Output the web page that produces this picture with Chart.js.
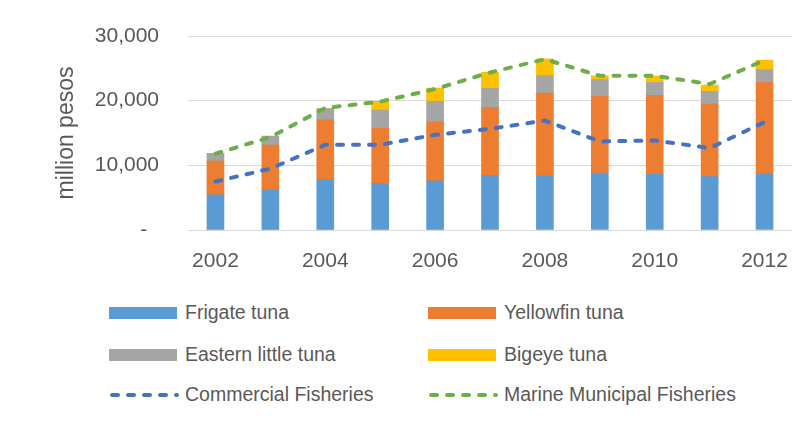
<!DOCTYPE html>
<html>
<head>
<meta charset="utf-8">
<script src="https://cdn.jsdelivr.net/npm/chart.js@4/dist/chart.umd.min.js"></script>
<style>
  html, body { margin: 0; padding: 0; background: #fff; }
  #wrap { position: relative; width: 809px; height: 426px; overflow: hidden; }
  #chart { position: absolute; left: 0; top: 0; }
  .lg { position: absolute; font-family: "Liberation Sans", sans-serif; font-size: 19.5px; color: #595959; white-space: nowrap; }
  .lg svg { position: absolute; left: 0; top: 50%; transform: translateY(-50%); }
  .lg span { position: absolute; left: 76px; top: 50%; transform: translateY(-50%); line-height: 1; }
</style>
</head>
<body>
<div id="wrap">
  <canvas id="chart" width="809" height="290"></canvas>
  <div id="legend"></div>
</div>
<script>
const years = ['2002', '2003', '2004', '2005', '2006', '2007', '2008', '2009', '2010', '2011', '2012'];
const frigate = [5440, 6260, 7800, 7180, 7590, 8460, 8360, 8820, 8620, 8260, 8720];
const yellowfin = [5230, 6870, 9230, 8560, 9130, 10510, 12820, 11850, 12200, 11230, 14100];
const eastern = [1180, 1380, 1740, 2820, 3180, 2930, 2720, 2610, 2000, 1950, 2000];
const bigeye = [0, 0, 0, 1340, 2050, 2510, 2560, 570, 980, 970, 1440];
const commercial = [7490, 9490, 13180, 13180, 14720, 15640, 16920, 13690, 13850, 12670, 16670];
const marine = [11800, 14360, 18870, 19850, 21800, 24360, 26410, 23850, 23850, 22560, 26260];
const yTicks = [0, 10000, 20000, 30000];

const textColor = '#595959';
const font = 'Liberation Sans';

function bar(label, data, color) {
  return { type: 'bar', label, data, backgroundColor: color, barThickness: 17, order: 1 };
}
function line(label, data, color, stack) {
  return {
    type: 'line', label, data, stack, borderColor: color, backgroundColor: color,
    borderWidth: 4, borderDash: [6, 10], borderCapStyle: 'round',
    pointRadius: 0, tension: 0, fill: false, order: 0
  };
}

const datasets = [
  bar('Frigate tuna', frigate, '#5B9BD5'),
  bar('Yellowfin tuna', yellowfin, '#ED7D31'),
  bar('Eastern little tuna', eastern, '#A5A5A5'),
  bar('Bigeye tuna', bigeye, '#FFC000'),
  line('Commercial Fisheries', commercial, '#4472C4', 'c'),
  line('Marine Municipal Fisheries', marine, '#70AD47', 'm')
];

const chart = new Chart(document.getElementById('chart'), {
  data: { labels: years, datasets },
  options: {
    responsive: false,
    animation: false,
    devicePixelRatio: 1,
    layout: { padding: { top: 36, right: 17, left: 0, bottom: 0 } },
    plugins: { legend: { display: false }, tooltip: { enabled: false } },
    scales: {
      x: {
        stacked: true,
        grid: { display: false, drawTicks: false },
        border: { display: false },
        ticks: {
          autoSkip: false, maxRotation: 0, padding: 19,
          color: textColor, font: { family: font, size: 21 },
          callback: (v, i) => (i % 2 === 0 ? years[i] : '')
        },
        afterFit: s => { s.height = 60; }
      },
      y: {
        stacked: true,
        min: yTicks[0], max: yTicks[yTicks.length - 1],
        afterBuildTicks: s => { s.ticks = yTicks.map(v => ({ value: v })); },
        grid: { color: '#D9D9D9', lineWidth: 1, drawTicks: false },
        border: { display: false },
        ticks: {
          padding: 29, color: textColor, font: { family: font, size: 21 },
          callback: v => (v === 0 ? '-  ' : v.toLocaleString('en-US'))
        },
        title: {
          display: true, text: 'million pesos', color: textColor,
          font: { family: font, size: 23 }, padding: { top: 53, bottom: 0 }
        },
        afterFit: s => { s.width = 188; s.paddingTop = 0; s.paddingBottom = 0; }
      }
    }
  }
});

// legend in two columns, built from the datasets
const legend = document.getElementById('legend');
const rowsY = [313, 355, 395];
const colsX = [109, 428];
chart.data.datasets.forEach((ds, i) => {
  const el = document.createElement('div');
  el.className = 'lg';
  el.style.left = colsX[i % 2] + 'px';
  el.style.top = (rowsY[Math.floor(i / 2)] - 15) + 'px';
  el.style.height = '30px';
  el.style.width = '320px';
  let sample;
  if (ds.type === 'bar') {
    sample = `<svg width="68" height="12"><rect width="68" height="12" fill="${ds.backgroundColor}"/></svg>`;
  } else {
    sample = `<svg width="72" height="8"><line x1="3" y1="4" x2="68" y2="4" stroke="${ds.borderColor}" stroke-width="4" stroke-linecap="round" stroke-dasharray="${ds.borderDash.join(' ')}"/></svg>`;
  }
  el.innerHTML = sample + `<span>${ds.label}</span>`;
  legend.appendChild(el);
});
</script>
</body>
</html>
